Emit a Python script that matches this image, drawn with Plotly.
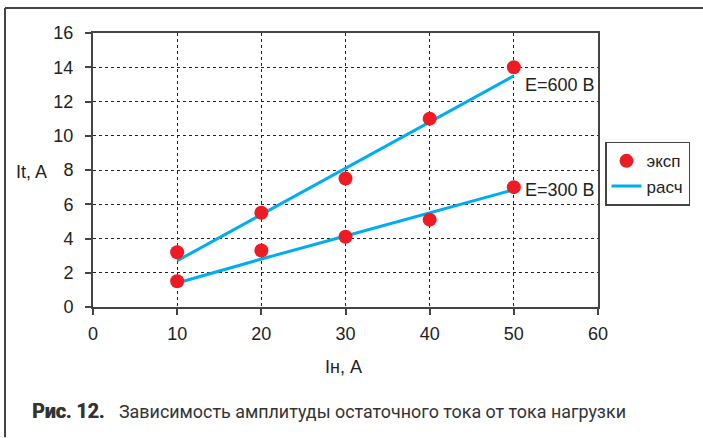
import plotly.graph_objects as go

# Load current In, A
load_current = [10, 20, 30, 40, 50]

# Measured residual current amplitude It, A
exp_600 = [3.2, 5.5, 7.5, 11.0, 14.0]
exp_300 = [1.5, 3.3, 4.1, 5.1, 7.0]

# Calculated residual current amplitude It, A
calc_600 = [2.7, 5.4, 8.1, 10.8, 13.5]
calc_300 = [1.4, 2.8, 4.15, 5.5, 6.85]

x_ticks = [0, 10, 20, 30, 40, 50, 60]
y_ticks = [0, 2, 4, 6, 8, 10, 12, 14, 16]

RED = "#ED1C24"
BLUE = "#00AEEF"
FONT = "Arial"
CAPTION_FONT = "Roboto"
TEXT = "#222"

W, H = 703, 438
L, R, T, B = 93, 105, 33, 130.5
pw, ph = W - L - R, H - T - B

def px(x):
    return (x - L) / pw

def py(y):
    return (H - B - y) / ph

fig = go.Figure()

fig.add_trace(go.Scatter(x=load_current, y=calc_600, mode="lines",
                         line=dict(color=BLUE, width=3), name="расч",
                         showlegend=False))
fig.add_trace(go.Scatter(x=load_current, y=calc_300, mode="lines",
                         line=dict(color=BLUE, width=3), name="расч",
                         showlegend=False))
fig.add_trace(go.Scatter(x=load_current, y=exp_600, mode="markers",
                         marker=dict(color=RED, size=14), name="эксп",
                         showlegend=True))
fig.add_trace(go.Scatter(x=load_current, y=exp_300, mode="markers",
                         marker=dict(color=RED, size=14), name="эксп",
                         showlegend=False))
# legend entry for the calculated curves
fig.add_trace(go.Scatter(x=[None], y=[None], mode="lines",
                         line=dict(color=BLUE, width=3), name="расч"))

axis_common = dict(
    showline=True, linecolor="#444", linewidth=2, mirror=True,
    showgrid=True, gridcolor="#222", gridwidth=1, griddash="dot",
    ticks="outside", ticklen=6, tickcolor="#444", tickwidth=1.5,
    zeroline=False, tickfont=dict(family=FONT, size=18, color=TEXT),
)

fig.update_xaxes(range=[0, 60], tickvals=x_ticks, ticklabelstandoff=3,
                 **axis_common)
fig.update_yaxes(range=[0, 16], tickvals=y_ticks, ticklabelstandoff=8,
                 **axis_common)

def label(x, y, text, xanchor="center", size=18, family=FONT, color=TEXT,
          ref="paper", xshift=0, shadow=None):
    font = dict(family=family, size=size, color=color)
    if shadow is not None:
        font["shadow"] = shadow
    return dict(x=x, y=y, xref=ref if ref == "paper" else "x",
                yref=ref if ref == "paper" else "y", text=text,
                showarrow=False, xanchor=xanchor, yanchor="middle",
                xshift=xshift, font=font)

fig.update_layout(
    width=W, height=H,
    margin=dict(l=L, r=R, t=T, b=B),
    paper_bgcolor="white", plot_bgcolor="white",
    font=dict(family=FONT, size=18, color=TEXT),
    legend=dict(x=px(605), y=py(142), xanchor="left", yanchor="top",
                bordercolor="#444", borderwidth=1.5, bgcolor="white",
                font=dict(family=FONT, size=17, color=TEXT),
                tracegroupgap=0),
    annotations=[
        label(50, 12.97, "E=600 В", xanchor="left", ref="data", xshift=9),
        label(50, 6.85, "E=300 В", xanchor="left", ref="data", xshift=9),
        label(px(31.5), py(172), "It, A"),
        label(px(343), py(368), "Iн, A"),
        label(px(30), py(412), "<b>Рис. 12.</b>", xanchor="left",
              family=CAPTION_FONT, size=19.5, color="#333",
              shadow="0.6px 0 0 #333"),
        label(px(117), py(412),
              "Зависимость амплитуды остаточного тока от тока нагрузки",
              xanchor="left", family=CAPTION_FONT, size=17.9, color="#333"),
    ],
    shapes=[
        dict(type="line", xref="paper", yref="paper",
             x0=px(5), x1=px(703), y0=py(8), y1=py(8),
             line=dict(color="#444", width=2)),
        dict(type="line", xref="paper", yref="paper",
             x0=px(5), x1=px(5), y0=py(8), y1=py(438),
             line=dict(color="#444", width=2)),
    ],
)

fig.write_html("out.html")
